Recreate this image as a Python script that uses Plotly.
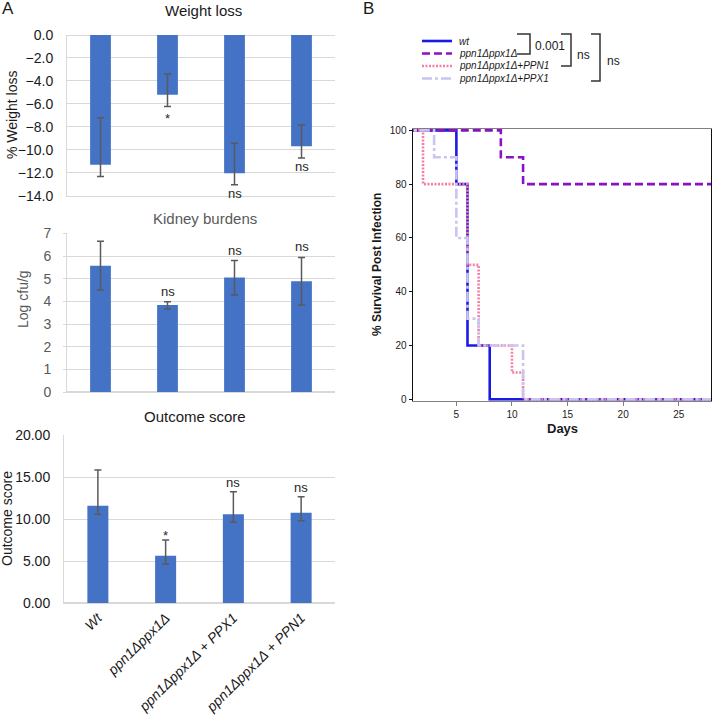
import plotly.graph_objects as go

W, H = 712, 718
def X(p):
    return p / W
def Y(p):
    return 1 - p / H

FONT = "Liberation Sans, Arial, sans-serif"

# ---------------- data ----------------
categories = ["Wt", "ppn1Δppx1Δ", "ppn1Δppx1Δ + PPX1", "ppn1Δppx1Δ + PPN1"]
tick_labels = ["<i>Wt</i>", "<i>ppn1Δppx1Δ</i>", "<i>ppn1Δppx1Δ + PPX1</i>", "<i>ppn1Δppx1Δ + PPN1</i>"]

weight_loss = [-11.3, -5.2, -12.05, -9.7]
weight_err_plus = [4.1, 1.8, 2.62, 1.86]
weight_err_minus = [1.02, 1.02, 1.0, 1.02]
weight_sig = ["", "*", "ns", "ns"]

kidney = [5.57, 3.84, 5.05, 4.89]
kidney_err_plus = [1.08, 0.15, 0.75, 1.05]
kidney_err_minus = [1.07, 0.17, 0.77, 1.05]
kidney_sig = ["", "ns", "ns", "ns"]

outcome = [11.6, 5.66, 10.57, 10.77]
outcome_err_plus = [4.24, 1.86, 2.69, 1.9]
outcome_err_minus = [1.03, 0.99, 0.95, 0.96]
outcome_sig = ["", "*", "ns", "ns"]

strains = ["wt", "ppn1Δppx1Δ", "ppn1Δppx1Δ+PPN1", "ppn1Δppx1Δ+PPX1"]
wt_days = [0, 5, 6, 8, 28]
wt_surv = [100, 80, 20, 0, 0]
dko_days = [0, 9, 11, 28]
dko_surv = [100, 90, 80, 80]
ppn1_days = [0, 2, 6, 7, 10, 11, 28]
ppn1_surv = [100, 80, 50, 20, 10, 0, 0]
ppx1_days = [0, 3, 5, 6, 7, 11, 28]
ppx1_surv = [100, 90, 60, 30, 20, 0, 0]

survival_days = [wt_days, dko_days, ppn1_days, ppx1_days]
survival_vals = [wt_surv, dko_surv, ppn1_surv, ppx1_surv]
line_colors = ["#1a1ae6", "#8a12c4", "#f580a6", "#c9c4f0"]
line_dashes = ["solid", "8px,4px", "2px,1.5px", "10px,3px,3px,3px"]

BAR = "#4472c4"
ERR = "#5a5a5a"
GRID = "#d9d9d9"

fig = go.Figure()

panels = [
    ("x", "y", weight_loss, weight_err_plus, weight_err_minus),
    ("x2", "y2", kidney, kidney_err_plus, kidney_err_minus),
    ("x3", "y3", outcome, outcome_err_plus, outcome_err_minus),
]
for xa, ya, vals, ep, em in panels:
    fig.add_trace(go.Bar(
        x=categories, y=vals, xaxis=xa, yaxis=ya, width=0.31,
        marker=dict(color=BAR, line=dict(width=0)),
        error_y=dict(type="data", symmetric=False, array=ep, arrayminus=em,
                     color=ERR, thickness=1.5, width=3.5),
        showlegend=False, hoverinfo="skip"))

for i in range(4):
    fig.add_trace(go.Scatter(
        x=survival_days[i], y=survival_vals[i], xaxis="x4", yaxis="y4",
        mode="lines", line=dict(shape="hv", color=line_colors[i], width=2.6, dash=line_dashes[i]),
        name=strains[i], showlegend=False, hoverinfo="skip"))

annotations = []
# significance labels
for i, c in enumerate(categories):
    if weight_sig[i]:
        annotations.append(dict(x=c, y=weight_loss[i] - weight_err_minus[i], xref="x", yref="y",
                                text=weight_sig[i], showarrow=False, yanchor="top",
                                yshift=-3 if weight_sig[i] == "*" else 1,
                                font=dict(size=13, color="#262626", family=FONT)))
    if kidney_sig[i]:
        annotations.append(dict(x=c, y=kidney[i] + kidney_err_plus[i], xref="x2", yref="y2",
                                text=kidney_sig[i], showarrow=False, yanchor="bottom", yshift=1,
                                font=dict(size=13, color="#262626", family=FONT)))
    if outcome_sig[i]:
        annotations.append(dict(x=c, y=outcome[i] + outcome_err_plus[i], xref="x3", yref="y3",
                                text=outcome_sig[i], showarrow=False, yanchor="bottom",
                                yshift=-5 if outcome_sig[i] == "*" else 0,
                                font=dict(size=13, color="#262626", family=FONT)))

def txt(px, py, s, size, color="#1a1a1a", angle=0, xanchor="center", yanchor="middle"):
    annotations.append(dict(x=X(px), y=Y(py), xref="paper", yref="paper", text=s,
                            showarrow=False, textangle=angle, xanchor=xanchor, yanchor=yanchor,
                            font=dict(size=size, color=color, family=FONT)))

txt(8, 8, "A", 17)
txt(368, 8, "B", 17)
txt(204, 11, "Weight loss", 15)
txt(205, 218, "Kidney burdens", 15, color="#595959")
txt(195, 416, "Outcome score", 15)
txt(12, 115, "% Weight loss", 14, angle=-90)
txt(23, 299, "Log cfu/g", 14, color="#595959", angle=-90)
txt(7, 519, "Outcome score", 14, angle=-90)
txt(377, 265, "<b>% Survival Post Infection</b>", 12, angle=-90)
txt(562, 428, "<b>Days</b>", 13)

# legend for panel B
shapes = []
rows = [41, 53.5, 66, 78.5]
for i in range(4):
    shapes.append(dict(type="line", xref="paper", yref="paper", x0=X(422), x1=X(452),
                       y0=Y(rows[i]), y1=Y(rows[i]),
                       line=dict(color=line_colors[i], width=2.6, dash=line_dashes[i])))
    txt(457, rows[i], "<i>" + strains[i] + "</i>", 10, color="#1a1a1a", xanchor="left")

def bracket(xl, xr, yt, yb):
    shapes.append(dict(type="path", xref="paper", yref="paper",
                       path=f"M {X(xl)} {Y(yt)} L {X(xr)} {Y(yt)} L {X(xr)} {Y(yb)} L {X(xl)} {Y(yb)}",
                       line=dict(color="#333333", width=1.5)))

bracket(517, 530, 34, 54)
bracket(561, 571, 34, 66)
bracket(591, 600, 34, 81)
txt(550, 46, "0.001", 12)
txt(583, 55, "ns", 12)
txt(613, 61, "ns", 12)

yd1 = [Y(195.7), Y(35)]
yd2 = [Y(392.3), Y(233.3)]
yd3 = [Y(603.3), Y(435)]
xd = [X(67), X(335)]

common_x = dict(type="category", showgrid=False, zeroline=False, showline=True,
                linecolor=GRID, linewidth=1, ticks="", automargin=False)

fig.update_layout(
    width=W, height=H, margin=dict(l=0, r=0, t=0, b=0, pad=0, autoexpand=False),
    paper_bgcolor="white", plot_bgcolor="white",
    font=dict(family=FONT, color="#1a1a1a"),
    bargap=0.69,
    xaxis=dict(domain=xd, anchor="y", showticklabels=False, **common_x),
    yaxis=dict(domain=yd1, anchor="x", range=[-14, 0], dtick=2, tickformat=".1f",
               gridcolor=GRID, gridwidth=1, zeroline=True, zerolinecolor=GRID, zerolinewidth=1,
               showline=True, linecolor=GRID, ticks="", ticklabelstandoff=10, automargin=False,
               tickfont=dict(size=14, color="#1a1a1a")),
    xaxis2=dict(domain=xd, anchor="y2", showticklabels=False, **common_x),
    yaxis2=dict(domain=yd2, anchor="x2", range=[0, 7], dtick=1,
                gridcolor=GRID, gridwidth=1, zeroline=True, zerolinecolor=GRID,
                showline=True, linecolor=GRID, ticks="outside", ticklen=3, tickcolor=GRID,
                ticklabelstandoff=9, automargin=False, tickfont=dict(size=14, color="#595959")),
    xaxis3=dict(domain=[X(64), X(335)], anchor="y3", tickangle=-45,
                tickvals=categories, ticktext=tick_labels,
                tickfont=dict(size=14, color="#1a1a1a"), **common_x),
    yaxis3=dict(domain=yd3, anchor="x3", range=[0, 20], dtick=5, tickformat=".2f",
                gridcolor=GRID, gridwidth=1, zeroline=True, zerolinecolor=GRID,
                showline=True, linecolor=GRID, ticks="", ticklabelstandoff=10, automargin=False,
                tickfont=dict(size=14, color="#1a1a1a")),
    xaxis4=dict(domain=[X(413), X(711)], anchor="y4", range=[1.1, 27.9],
                tickvals=[5, 10, 15, 20, 25], showgrid=False, zeroline=False,
                showline=True, linecolor="#808080", linewidth=1.2, mirror=True,
                ticks="outside", ticklen=4, tickcolor="#808080", automargin=False,
                tickfont=dict(size=10, color="#1a1a1a")),
    yaxis4=dict(domain=[Y(400.7), Y(129)], anchor="x4", range=[-0.5, 100.5],
                tickvals=[0, 20, 40, 60, 80, 100], showgrid=False, zeroline=False,
                showline=True, linecolor="#111111", linewidth=1.5, mirror=True,
                ticks="outside", ticklen=3, tickcolor="#111111", automargin=False,
                tickfont=dict(size=10, color="#1a1a1a")),
    annotations=annotations,
    shapes=shapes,
)

fig.write_html("out.html", config={"displayModeBar": False, "staticPlot": True},
               post_script="document.body.style.margin='0';document.body.style.padding='0';"
                           "document.body.style.overflow='hidden';")
